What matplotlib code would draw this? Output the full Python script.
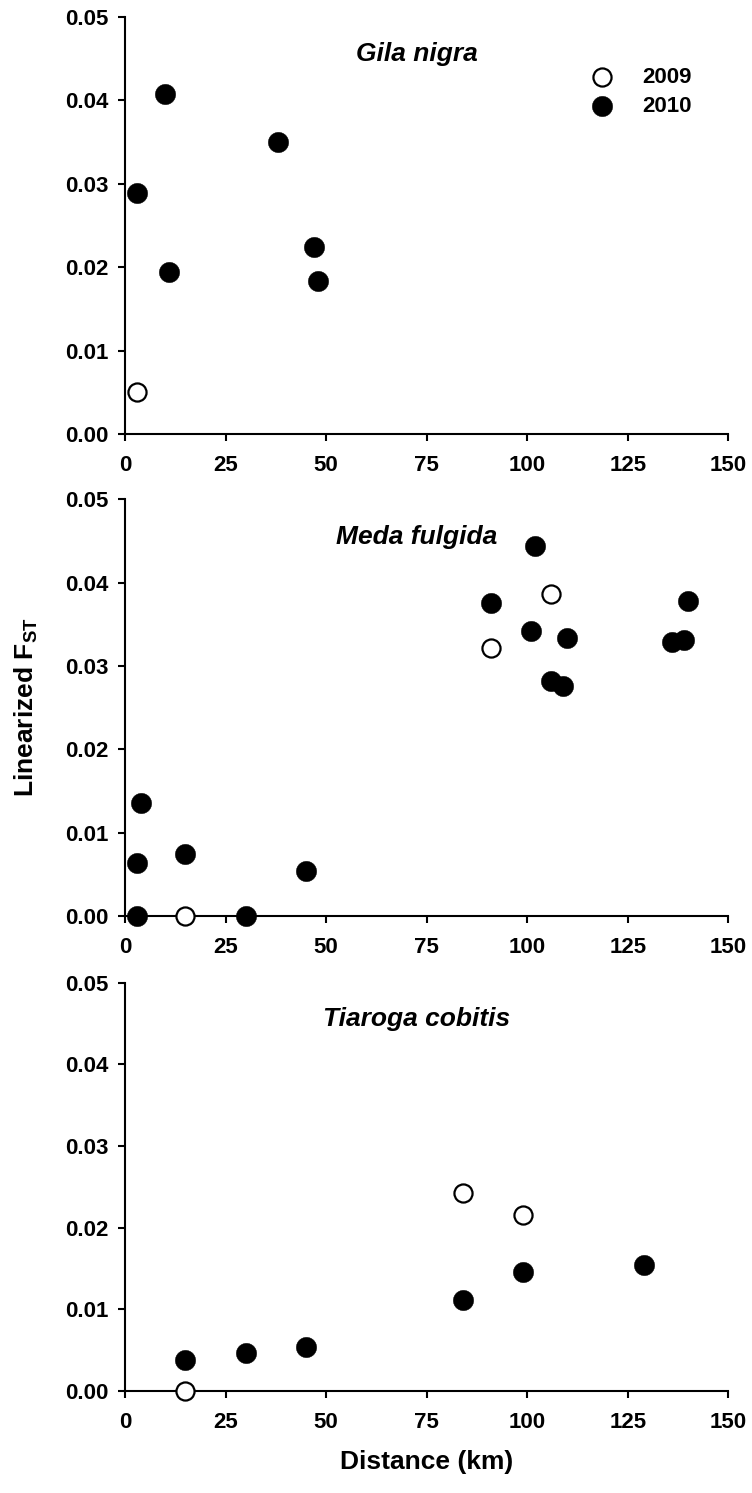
import matplotlib.pyplot as plt

plt.rcParams['font.family'] = ['Liberation Sans', 'DejaVu Sans']
plt.rcParams['font.weight'] = 'bold'
plt.rcParams['mathtext.fontset'] = 'custom'
plt.rcParams['mathtext.rm'] = 'Liberation Sans:bold'
plt.rcParams['mathtext.it'] = 'Liberation Sans:bold:italic'
plt.rcParams['mathtext.bf'] = 'Liberation Sans:bold'

species = ['Gila nigra', 'Meda fulgida', 'Tiaroga cobitis']

# Gila nigra
gila_2009_x = [3]
gila_2009_y = [0.0051]
gila_2010_x = [10, 3, 11, 38, 47, 48]
gila_2010_y = [0.0407, 0.0289, 0.0194, 0.0350, 0.0224, 0.0184]

# Meda fulgida
meda_2009_x = [15, 91, 106]
meda_2009_y = [0.0, 0.0321, 0.0386]
meda_2010_x = [4, 3, 3, 15, 30, 45, 102, 91, 101, 110, 106, 109, 140, 136, 139]
meda_2010_y = [0.0136, 0.0064, 0.0, 0.0074, 0.0, 0.0054, 0.0444, 0.0376,
               0.0342, 0.0333, 0.0282, 0.0276, 0.0378, 0.0329, 0.0331]

# Tiaroga cobitis
tiar_2009_x = [15, 84, 99]
tiar_2009_y = [0.0, 0.0243, 0.0215]
tiar_2010_x = [15, 30, 45, 84, 99, 129]
tiar_2010_y = [0.0038, 0.0047, 0.0054, 0.0111, 0.0146, 0.0154]

data = [
    (gila_2009_x, gila_2009_y, gila_2010_x, gila_2010_y),
    (meda_2009_x, meda_2009_y, meda_2010_x, meda_2010_y),
    (tiar_2009_x, tiar_2009_y, tiar_2010_x, tiar_2010_y),
]

xticks = [0, 25, 50, 75, 100, 125, 150]
yticks = [0.00, 0.01, 0.02, 0.03, 0.04, 0.05]

fig = plt.figure(figsize=(7.52, 14.93), dpi=100)
boxes = [
    [0.1662, 0.7091, 0.8023, 0.2797],
    [0.1662, 0.3865, 0.8023, 0.2791],
    [0.1662, 0.0683, 0.8023, 0.2735],
]

axes = []
for box, name, (x09, y09, x10, y10) in zip(boxes, species, data):
    ax = fig.add_axes(box)
    h09 = ax.scatter(x09, y09, s=170, facecolor='white', edgecolor='black',
                     linewidths=1.6, zorder=3, clip_on=False, label='2009')
    h10 = ax.scatter(x10, y10, s=215, facecolor='black', edgecolor='black',
                     linewidths=0.3, zorder=4, clip_on=False, label='2010')
    ax.set_xlim(0, 150)
    ax.set_ylim(0, 0.05)
    ax.set_xticks(xticks)
    ax.set_yticks(yticks)
    ax.set_yticklabels(['%.2f' % v for v in yticks])
    for s in ['top', 'right']:
        ax.spines[s].set_visible(False)
    for s in ['left', 'bottom']:
        ax.spines[s].set_linewidth(1.5)
    ax.tick_params(axis='both', direction='out', length=5, width=1.5,
                   labelsize=16)
    ax.tick_params(axis='x', pad=10)
    ax.tick_params(axis='y', pad=7)
    ax.text(72.5, 0.0455, name, fontsize=19, fontstyle='italic',
            fontweight='bold', ha='center', va='center')
    axes.append((ax, h09, h10))

ax0, h09, h10 = axes[0]
ax0.legend(handles=[h09, h10], loc='upper left', bbox_to_anchor=(0.772, 0.88),
           frameon=False, fontsize=16, borderpad=0, borderaxespad=0,
           handlelength=1.0, handletextpad=1.3, labelspacing=0.35)

axes[1][0].set_ylabel('Linearized F$_{\\mathrm{ST}}$', fontsize=19,
                      fontweight='bold', labelpad=18)
axes[2][0].set_xlabel('Distance (km)', fontsize=19, fontweight='bold',
                      labelpad=12)

fig.savefig('out.png', dpi=100)
